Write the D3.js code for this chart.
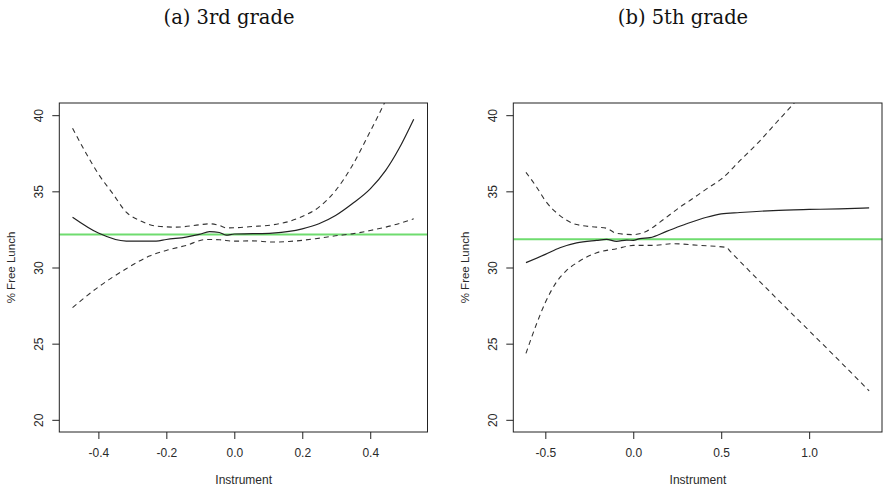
<!DOCTYPE html>
<html>
<head>
<meta charset="utf-8">
<script src="https://cdn.jsdelivr.net/npm/d3@7"></script>
<style>
  html, body { margin: 0; padding: 0; background: #fff; }
  svg { display: block; }
</style>
</head>
<body>
<svg id="chart" width="883" height="487"></svg>
<script>
// ---------- DATA ----------
const panelTitles = ["(a) 3rd grade", "(b) 5th grade"];
const xLabel = "Instrument";
const yLabel = "% Free Lunch";
const yTicks = [20, 25, 30, 35, 40];
const xTicksA = [-0.4, -0.2, 0.0, 0.2, 0.4];
const xTicksB = [-0.5, 0.0, 0.5, 1.0];

// Panel (a): 3rd grade
const fitA_x   = [-0.476, -0.4, -0.318, -0.23, -0.2, -0.142, -0.103, -0.073, -0.044, -0.024, 0.0, 0.054, 0.112, 0.161, 0.2, 0.249, 0.298, 0.347, 0.4, 0.445, 0.484, 0.528];
const fitA_y   = [33.30, 32.26, 31.73, 31.73, 31.84, 32.0, 32.17, 32.35, 32.3, 32.12, 32.2, 32.22, 32.26, 32.37, 32.54, 32.87, 33.41, 34.18, 35.16, 36.36, 37.78, 39.74];
const upA_x    = [-0.476, -0.435, -0.4, -0.357, -0.318, -0.279, -0.23, -0.171, -0.103, -0.073, -0.044, -0.024, 0.0, 0.054, 0.112, 0.161, 0.2, 0.249, 0.298, 0.347, 0.396, 0.44, 0.484, 0.528];
const upA_y    = [39.15, 37.45, 36.14, 34.83, 33.63, 33.09, 32.72, 32.65, 32.8, 32.87, 32.76, 32.6, 32.61, 32.69, 32.8, 33.02, 33.35, 33.96, 35.05, 36.68, 38.76, 40.72, 42.9, 45.5];
const loA_x    = [-0.476, -0.4, -0.318, -0.25, -0.2, -0.142, -0.083, -0.044, 0.0, 0.054, 0.112, 0.161, 0.239, 0.298, 0.347, 0.4, 0.465, 0.528];
const loA_y    = [27.37, 28.72, 29.92, 30.75, 31.12, 31.45, 31.84, 31.82, 31.73, 31.75, 31.67, 31.71, 31.89, 32.08, 32.21, 32.43, 32.76, 33.2];
const refA     = 32.17;

// Panel (b): 5th grade
const fitB_x   = [-0.61, -0.5, -0.417, -0.322, -0.208, -0.152, -0.095, -0.038, 0.0, 0.038, 0.095, 0.189, 0.303, 0.417, 0.5, 0.606, 0.795, 1.0, 1.174, 1.341];
const fitB_y   = [30.32, 30.86, 31.3, 31.62, 31.78, 31.84, 31.72, 31.8, 31.78, 31.9, 31.96, 32.37, 32.87, 33.3, 33.52, 33.61, 33.74, 33.81, 33.85, 33.91];
const upB_x    = [-0.61, -0.549, -0.5, -0.417, -0.322, -0.208, -0.152, -0.095, 0.0, 0.076, 0.152, 0.265, 0.322, 0.417, 0.5, 0.606, 0.72, 0.814, 0.909, 1.1, 1.341];
const upB_y    = [36.25, 35.27, 34.39, 33.41, 32.82, 32.65, 32.58, 32.24, 32.16, 32.38, 32.98, 33.96, 34.4, 35.16, 35.8, 37.01, 38.32, 39.52, 40.72, 43.3, 46.6];
const loB_x    = [-0.61, -0.549, -0.5, -0.436, -0.379, -0.322, -0.208, -0.095, 0.0, 0.114, 0.227, 0.379, 0.53, 0.55, 0.795, 1.0, 1.174, 1.341];
const loB_y    = [24.36, 26.32, 27.7, 29.05, 29.81, 30.3, 30.97, 31.23, 31.45, 31.45, 31.56, 31.45, 31.32, 31.08, 28.2, 25.85, 23.85, 21.9];
const refB     = 31.85;

// ---------- LAYOUT ----------
const svg = d3.select("#chart");
const panels = [
  { title: panelTitles[0], titleX: 229, left: 59.3, right: 428, xDomain: [-0.515, 0.57], xTicks: xTicksA, yLabX: 11,
    fit: [fitA_x, fitA_y], up: [upA_x, upA_y], lo: [loA_x, loA_y], ref: refA, id: "a" },
  { title: panelTitles[1], titleX: 683, left: 513.3, right: 882.5, xDomain: [-0.682, 1.417], xTicks: xTicksB, yLabX: 465,
    fit: [fitB_x, fitB_y], up: [upB_x, upB_y], lo: [loB_x, loB_y], ref: refB, id: "b" }
];
const plotTop = 103, plotBottom = 432;
const sans = "'Liberation Sans', Arial, sans-serif";
const textCol = "#2a2a2a";

panels.forEach(p => {
  const x = d3.scaleLinear().domain(p.xDomain).range([p.left, p.right]);
  const y = d3.scaleLinear().domain([19.2, 40.8]).range([plotBottom, plotTop]);

  // title
  svg.append("text")
    .attr("x", p.titleX).attr("y", 24)
    .attr("text-anchor", "middle")
    .attr("font-family", "'DejaVu Serif', 'Liberation Serif', serif")
    .attr("font-size", 19.5)
    .attr("fill", "#111")
    .text(p.title);

  // clip
  svg.append("clipPath").attr("id", "clip-" + p.id)
    .append("rect").attr("x", p.left).attr("y", plotTop)
    .attr("width", p.right - p.left).attr("height", plotBottom - plotTop);

  const g = svg.append("g");
  const plot = g.append("g").attr("clip-path", `url(#clip-${p.id})`);

  // reference line (green)
  plot.append("line")
    .attr("x1", p.left).attr("x2", p.right)
    .attr("y1", y(p.ref)).attr("y2", y(p.ref))
    .attr("stroke", "#6fdc6f").attr("stroke-width", 2);

  const line = d3.line().x(d => x(d[0])).y(d => y(d[1])).curve(d3.curveMonotoneX);
  const zip = (a) => a[0].map((v, i) => [v, a[1][i]]);

  plot.append("path").datum(zip(p.up)).attr("d", line)
    .attr("fill", "none").attr("stroke", "#333").attr("stroke-width", 1.1)
    .attr("stroke-dasharray", "5,4");
  plot.append("path").datum(zip(p.lo)).attr("d", line)
    .attr("fill", "none").attr("stroke", "#333").attr("stroke-width", 1.1)
    .attr("stroke-dasharray", "5,4");
  plot.append("path").datum(zip(p.fit)).attr("d", line)
    .attr("fill", "none").attr("stroke", "#222").attr("stroke-width", 1.2);

  // box
  g.append("rect").attr("x", p.left).attr("y", plotTop)
    .attr("width", p.right - p.left - 0.5).attr("height", plotBottom - plotTop)
    .attr("fill", "none").attr("stroke", "#222").attr("stroke-width", 1);

  // x axis
  const xAxis = g.append("g").attr("transform", `translate(0,${plotBottom})`)
    .call(d3.axisBottom(x).tickValues(p.xTicks).tickSize(7).tickPadding(9)
      .tickFormat(d3.format(".1f")));
  xAxis.select(".domain").remove();
  xAxis.selectAll("line").attr("stroke", "#222");
  xAxis.selectAll("text").attr("font-family", sans).attr("font-size", 12).attr("fill", textCol)
    .text(d => d3.format(".1f")(d).replace("−", "-"));

  // y axis
  const yAxis = g.append("g").attr("transform", `translate(${p.left},0)`)
    .call(d3.axisLeft(y).tickValues(yTicks).tickSize(7).tickFormat(d3.format("d")));
  yAxis.select(".domain").remove();
  yAxis.selectAll("line").attr("stroke", "#222");
  yAxis.selectAll("text").remove();
  yAxis.selectAll(".tick").append("text")
    .attr("transform", `translate(-20,0) rotate(-90)`)
    .attr("text-anchor", "middle")
    .attr("dominant-baseline", "central")
    .attr("font-family", sans).attr("font-size", 12).attr("fill", textCol)
    .text(d => d);

  // axis labels
  svg.append("text")
    .attr("x", (p.left + p.right) / 2).attr("y", 484)
    .attr("text-anchor", "middle")
    .attr("font-family", sans).attr("font-size", 12).attr("fill", textCol)
    .text(xLabel);
  svg.append("text")
    .attr("transform", `translate(${p.yLabX},${(plotTop + plotBottom) / 2}) rotate(-90)`)
    .attr("text-anchor", "middle")
    .attr("dominant-baseline", "central")
    .attr("font-family", sans).attr("font-size", 11.5).attr("fill", textCol)
    .text(yLabel);
});
</script>
</body>
</html>
